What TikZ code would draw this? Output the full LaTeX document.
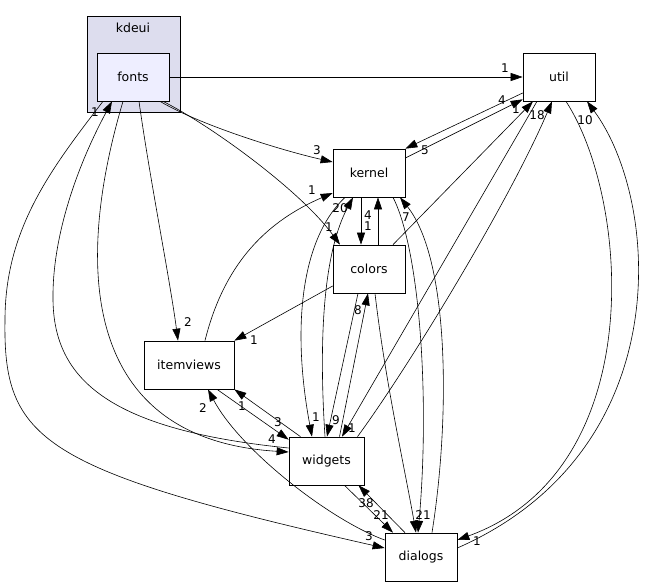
\documentclass[tikz,border=0pt]{standalone}
\usepackage{fontspec}
\setmainfont{DejaVu Sans}
\usetikzlibrary{arrows.meta}
\definecolor{clfill}{RGB}{221,221,238}
\definecolor{fontsfill}{RGB}{238,238,255}
\begin{document}
\begin{tikzpicture}[x=1pt,y=-1pt,
  box/.style={draw=black, fill=white, minimum width=72pt, minimum height=48pt, inner sep=0pt, font=\fontsize{12.5}{14}\selectfont, line width=0.7pt},
  dep/.style={-{Triangle[length=12pt,width=8pt]}, line width=0.6pt},
  lab/.style={font=\fontsize{12}{13}\selectfont, inner sep=0pt}]
\useasboundingbox (0,0) rectangle (651,587);
\node[draw=black, fill=clfill, minimum width=93pt, minimum height=96pt, inner sep=0pt, line width=0.7pt] (cl) at (133.5,64) {};
\node[font=\fontsize{12.5}{14}\selectfont] (kdeui) at (133,28) {kdeui};
\node[box, fill=fontsfill] (fonts) at (133,77) {fonts};
\node[box] (util) at (559,77) {util};
\node[box] (kernel) at (369,173) {kernel};
\node[box] (colors) at (369,269) {colors};
\node[box, minimum width=90pt] (itemviews) at (189,365) {itemviews};
\node[box, minimum width=75pt] (widgets) at (326.5,461) {widgets};
\node[box] (dialogs) at (421,557) {dialogs};

% fonts edges
\draw[dep] (fonts.east) -- (util.west);
\node[lab] (l1) at (505,68) {1};
\draw[dep] ([xshift=27pt]fonts.south) .. controls (200,125) and (280,150) .. ([yshift=11pt]kernel.west);
\node[lab] (l2) at (317,150) {3};
\draw[dep] ([xshift=30pt]fonts.south) .. controls (210,125) and (300,190) .. ([xshift=-29pt]colors.north);
\node[lab] (l3) at (329,227) {1};
\draw[dep] ([xshift=6pt]fonts.south) .. controls (150,180) and (170,280) .. ([xshift=-11pt]itemviews.north);
\node[lab] (l4) at (188,322) {2};
\draw[dep] ([xshift=-10pt]fonts.south) .. controls (70,280) and (90,440) .. ([yshift=9pt]widgets.west);
\node[lab] (l5) at (272,439) {4};
\draw[dep] ([yshift=13pt]widgets.west) .. controls (110,430) and (54,380) .. (53,300) .. controls (52,240) and (75,170) .. ([xshift=-21pt]fonts.south);
\node[lab] (l6) at (95,112) {1};
\draw[dep] ([xshift=-30pt]fonts.south) .. controls (50,170) and (5,230) .. (5,320) .. controls (3,440) and (40,470) .. ([yshift=9pt]dialogs.west);
\node[lab] (l7) at (369,536) {3};

% util / kernel
\draw[dep] ([yshift=15pt]kernel.east) -- ([yshift=2pt]util.south west);
\node[lab] (l8) at (502,100) {4};
\draw[dep] ([yshift=-16pt]util.west) -- (kernel.north east);
\node[lab] (l9) at (425,150) {5};
\draw[dep] ([xshift=24pt]colors.north) -- ([xshift=-26pt]util.south);
\node[lab] (l10) at (516,109) {1};
\draw[dep] ([xshift=-22pt]util.south) -- ([xshift=15.5pt]widgets.north);
\node[lab] (l11) at (352,428) {1};
\draw[dep] ([xshift=31pt]widgets.north) .. controls (410,365) and (510,200) .. ([xshift=-7pt]util.south);
\node[lab] (l12) at (537,115) {18};

% kernel / widgets / colors
\draw[dep] ([xshift=-1.5pt]widgets.north) .. controls (318,330) and (325,250) .. ([xshift=-16pt]kernel.south);
\node[lab] (l13) at (340,208) {20};
\draw[dep] ([xshift=-24pt]kernel.south) .. controls (300,240) and (292,330) .. ([xshift=-14.5pt]widgets.north);
\node[lab] (l14) at (316,417) {1};
\draw[dep] ([xshift=-8pt]kernel.south) -- ([xshift=-8pt]colors.north);
\node[lab] (l15) at (368,226) {1};
\draw[dep] ([xshift=9pt]colors.north) -- ([xshift=9pt]kernel.south);
\node[lab] (l16) at (368,215) {4};
\draw[dep] ([xshift=11pt]dialogs.north) .. controls (450,420) and (450,260) .. ([xshift=31pt]kernel.south);
\node[lab] (l17) at (406,217) {7};
\draw[dep] ([xshift=24pt]kernel.south) .. controls (420,250) and (430,400) .. ([xshift=-3pt]dialogs.north);
\node[lab] (l18) at (423,515) {21};
\draw[dep] ([xshift=6pt]colors.south) .. controls (385,380) and (405,470) .. ([xshift=-5pt]dialogs.north);
\draw[dep] ([yshift=-17pt]colors.west) -- (itemviews.north east);
\node[lab] (l19) at (254,340) {1};
\draw[dep] ([xshift=-11pt]colors.south) -- ([xshift=0.5pt]widgets.north);
\node[lab] (l20) at (336,420) {9};
\draw[dep] ([xshift=13pt]widgets.north) -- ([xshift=-1pt]colors.south);
\node[lab] (l21) at (358,310) {8};

% itemviews
\draw[dep] ([xshift=16pt]itemviews.north) .. controls (225,260) and (270,220) .. ([yshift=-20pt]kernel.west);
\node[lab] (l22) at (312,190) {1};
\draw[dep] ([xshift=28pt]itemviews.south) -- ([yshift=-3pt]widgets.north west);
\node[lab] (l23) at (278,422) {3};
\draw[dep] ([xshift=-26pt]widgets.north) -- (itemviews.south east);
\node[lab] (l24) at (242,406) {1};
\draw[dep] ([yshift=17pt]dialogs.west) .. controls (330,520) and (240,450) .. ([xshift=19pt]itemviews.south);
\node[lab] (l25) at (203,408) {2};

% widgets / dialogs
\draw[dep] ([xshift=18pt]widgets.south) -- ([xshift=-28pt]dialogs.north);
\node[lab] (l26) at (381,515) {21};
\draw[dep] ([xshift=-16pt]dialogs.north) -- ([xshift=32pt]widgets.south);
\node[lab] (l27) at (366,503) {38};

% util / dialogs
\draw[dep] ([xshift=7pt]util.south) .. controls (630,200) and (650,470) .. ([yshift=17pt]dialogs.east);
\node[lab] (l28) at (477,541) {1};
\draw[dep] ([yshift=9pt]dialogs.east) .. controls (680,450) and (660,200) .. ([xshift=28pt]util.south);
\node[lab] (l29) at (585,120) {10};
\end{tikzpicture}
\end{document}
